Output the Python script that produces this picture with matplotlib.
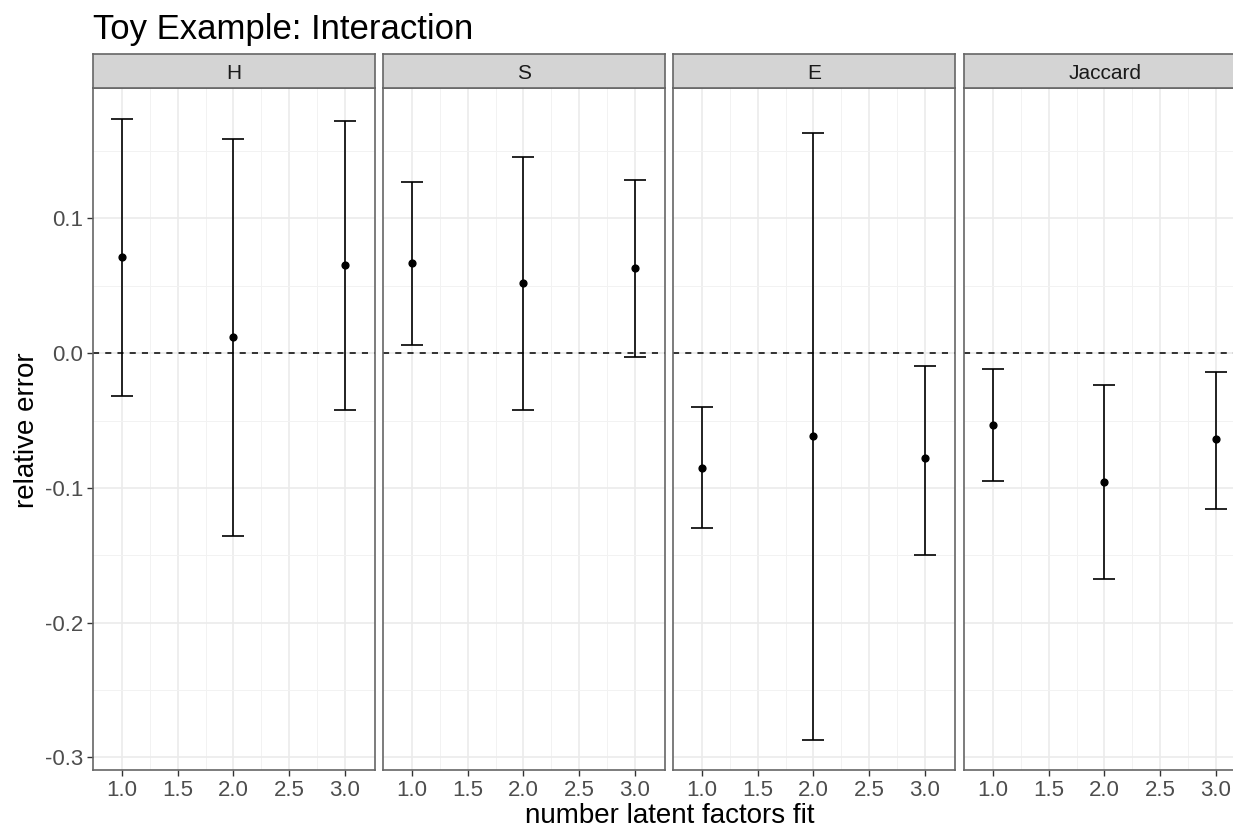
import matplotlib
matplotlib.use('Agg')
import matplotlib.pyplot as plt
import numpy as np

plt.rcParams['font.family'] = ['Liberation Sans', 'DejaVu Sans']

# data
panels = ['H', 'S', 'E', 'Jaccard']
factors = [1.0, 2.0, 3.0]
means = {
    'H': [0.0714, 0.0121, 0.0655],
    'S': [0.067, 0.052, 0.0633],
    'E': [-0.085, -0.0618, -0.0778],
    'Jaccard': [-0.053, -0.0955, -0.064],
}
upper = {
    'H': [0.1738, 0.159, 0.1723],
    'S': [0.127, 0.1456, 0.1285],
    'E': [-0.0398, 0.1634, -0.0094],
    'Jaccard': [-0.0116, -0.0235, -0.0139],
}
lower = {
    'H': [-0.0317, -0.1355, -0.0421],
    'S': [0.006, -0.042, -0.0027],
    'E': [-0.130, -0.287, -0.1496],
    'Jaccard': [-0.0947, -0.1674, -0.1155],
}

W, H = 1233, 827
fig = plt.figure(figsize=(W / 100, H / 100), dpi=100)

lefts = [93, 383, 673, 964]
pw = 282
top, bottom = 88, 770
strip_h = 34

for i, name in enumerate(panels):
    ax = fig.add_axes([lefts[i] / W, (H - bottom) / H, pw / W, (bottom - top) / H])
    m = np.array(means[name])
    lo = np.array(lower[name])
    hi = np.array(upper[name])
    ax.axhline(0, color='black', lw=1.1, ls=(0, (4, 4)), zorder=2)
    ax.errorbar(factors, m, yerr=[m - lo, hi - m], fmt='none', ecolor='black',
                elinewidth=1.2, capsize=8, capthick=1.2, zorder=3)
    ax.scatter(factors, m, s=24, color='black', zorder=4)
    ax.set_xlim(0.74, 3.27)
    ax.set_ylim(-0.3093, 0.1968)
    ax.set_xticks([1.0, 1.5, 2.0, 2.5, 3.0])
    ax.set_xticklabels(['1.0', '1.5', '2.0', '2.5', '3.0'])
    ax.set_xticks([1.25, 1.75, 2.25, 2.75], minor=True)
    ax.set_yticks([-0.3, -0.2, -0.1, 0.0, 0.1])
    ax.set_yticks([-0.25, -0.15, -0.05, 0.05, 0.15], minor=True)
    if i == 0:
        ax.set_yticklabels(['-0.3', '-0.2', '-0.1', '0.0', '0.1'])
    else:
        ax.tick_params(axis='y', which='both', left=False, labelleft=False)
    ax.grid(which='major', color='#EBEBEB', lw=1.2, zorder=0)
    ax.grid(which='minor', color='#F2F2F2', lw=0.7, zorder=0)
    ax.set_axisbelow(True)
    ax.tick_params(which='major', length=4, width=1, color='#333333',
                   labelsize=16, labelcolor='#4D4D4D', pad=3)
    ax.tick_params(which='minor', length=0)
    for sp in ax.spines.values():
        sp.set_color('#666666')
        sp.set_linewidth(1.2)
    # facet strip
    sax = fig.add_axes([lefts[i] / W, (H - top) / H, pw / W, strip_h / H])
    sax.set_xlim(0, 1)
    sax.set_ylim(0, 1)
    sax.set_xticks([])
    sax.set_yticks([])
    sax.set_facecolor('#D4D4D4')
    for sp in sax.spines.values():
        sp.set_color('#666666')
        sp.set_linewidth(1.2)
    sax.text(0.5, 0.44, name, ha='center', va='center', fontsize=15, color='#1A1A1A')

fig.text(93 / W, 1 - 39 / H, 'Toy Example: Interaction', fontsize=25, ha='left', va='baseline')
fig.text(670 / W, 1 - 823 / H, 'number latent factors fit', fontsize=20, ha='center', va='baseline')
fig.text(27 / W, 1 - 430 / H, 'relative error', fontsize=20, ha='center', va='center', rotation=90)

fig.savefig('out.png', dpi=100)
